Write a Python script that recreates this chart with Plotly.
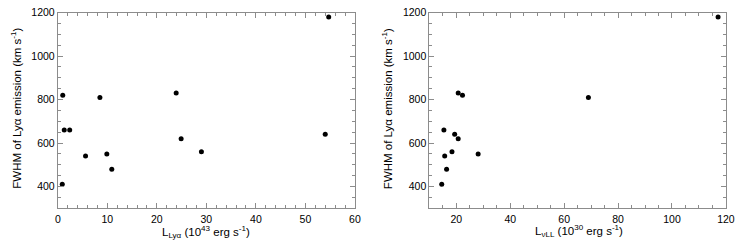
import plotly.graph_objects as go

# Left panel: Lya luminosity vs FWHM
l_lya = [1.0, 8.5, 1.3, 2.4, 5.6, 9.9, 10.9, 0.9, 23.9, 24.9, 29.0, 54.7, 54.0]
fwhm_left = [820, 810, 660, 660, 540, 550, 480, 410, 830, 620, 560, 1180, 640]

# Right panel: L_nu,LL vs FWHM
l_nuLL = [20.7, 22.3, 15.4, 19.4, 20.7, 18.4, 28.1, 15.7, 16.4, 14.6, 69.0, 117.1]
fwhm_right = [830, 820, 660, 640, 620, 560, 550, 540, 480, 410, 810, 1180]

W, H = 747, 243
FONT = "Liberation Sans, Arial, Helvetica, sans-serif"
frame = "#8c8c8c"

fig = go.Figure()
fig.add_trace(go.Scatter(x=l_lya, y=fwhm_left, mode="markers",
                         marker=dict(color="black", size=5), xaxis="x", yaxis="y"))
fig.add_trace(go.Scatter(x=l_nuLL, y=fwhm_right, mode="markers",
                         marker=dict(color="black", size=5), xaxis="x2", yaxis="y2"))

ydom = [1 - 207.4 / H, 1 - 6.8 / H]

def xax(dom, rng, dtick, mdtick, anchor):
    return dict(domain=dom, range=rng, dtick=dtick, tick0=0, anchor=anchor,
                showline=True, linecolor=frame, linewidth=1, mirror="ticks",
                ticks="inside", ticklen=5, tickcolor=frame, showgrid=False,
                zeroline=False, ticklabelstandoff=1,
                tickfont=dict(size=10.5, color="black", family=FONT),
                minor=dict(dtick=mdtick, tick0=0, ticks="inside", ticklen=3,
                           tickcolor=frame, showgrid=False))

def yax(anchor):
    return dict(domain=ydom, range=[300, 1200], dtick=200, tick0=0, anchor=anchor,
                showline=True, linecolor=frame, linewidth=1, mirror="ticks",
                ticks="inside", ticklen=5, tickcolor=frame, showgrid=False,
                zeroline=False, tickfont=dict(size=10.5, color="black", family=FONT),
                minor=dict(dtick=50, tick0=0, ticks="inside", ticklen=3,
                           tickcolor=frame, showgrid=False))

fig.update_layout(
    width=W, height=H,
    margin=dict(l=0, r=0, t=0, b=0),
    paper_bgcolor="white", plot_bgcolor="white",
    showlegend=False,
    font=dict(family=FONT, size=10, color="black"),
    xaxis=xax([55.7 / W, 357.7 / W], [0, 60], 10, 2, "y"),
    yaxis=yax("x"),
    xaxis2=xax([433.3 / W, 734.7 / W], [10, 120], 20, 5, "y2"),
    yaxis2=yax("x2"),
)

ytitle = "FWHM of Ly\u03b1 emission (km s<sup>-1</sup>)"
for xc in (13.5, 391):
    fig.add_annotation(text=ytitle, x=xc / W, y=(1 - 105 / H), xref="paper", yref="paper",
                       xanchor="center", yanchor="middle",
                       textangle=-90, showarrow=False, font=dict(size=11.5, family=FONT))
fig.add_annotation(text="L<sub>Ly\u03b1</sub> (10<sup>43</sup> erg s<sup>-1</sup>)",
                   x=206 / W, y=1 - 231.5 / H, xref="paper", yref="paper",
                   xanchor="center", yanchor="middle",
                   showarrow=False, font=dict(size=11.5, family=FONT))
fig.add_annotation(text="L<sub>\u03bdLL</sub> (10<sup>30</sup> erg s<sup>-1</sup>)",
                   x=585 / W, y=1 - 230.5 / H, xref="paper", yref="paper",
                   xanchor="center", yanchor="middle",
                   showarrow=False, font=dict(size=11.5, family=FONT))

fig.write_html("out.html", config={"displayModeBar": False},
               post_script="document.body.style.margin='0';")
